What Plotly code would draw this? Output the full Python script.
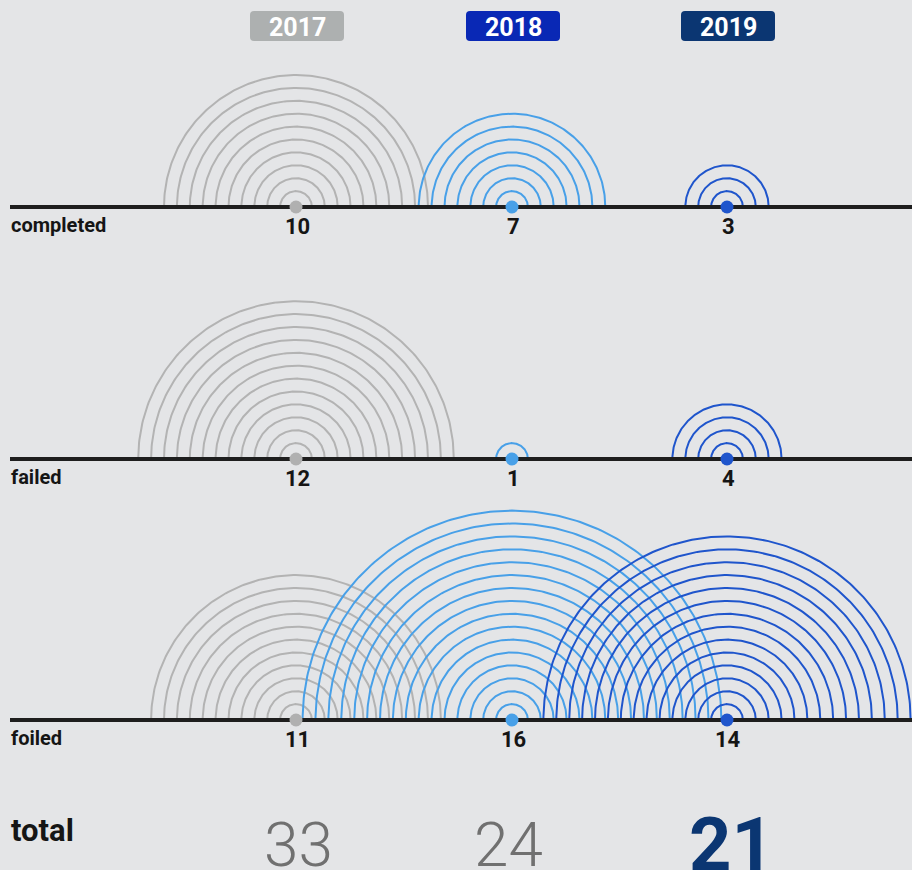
import numpy as np
import plotly.graph_objects as go

# ---- data ----
years = ["2017", "2018", "2019"]
categories = ["completed", "failed", "foiled"]
completed = [10, 7, 3]
failed = [12, 1, 4]
foiled = [11, 16, 14]
totals = [33, 24, 21]

# ---- style / layout (pixel coordinate system) ----
W, H = 912, 870
BG = "#e4e5e7"
arc_colors = ["#b3b3b3", "#48a0e8", "#1f55cc"]
dot_colors = ["#b0b0b0", "#48a0e8", "#1f55cc"]
head_colors = ["#adb0b0", "#0928b5", "#0b3672"]
total_colors = ["#707070", "#707070", "#0b3672"]
total_dx = [2, -4, 4]
col_x = [296, 512, 727]
row_y = [207, 459, 720]
R0, DR = 3.0, 12.9

rows = [completed, failed, foiled]

fig = go.Figure()
t = np.linspace(0, np.pi, 181)

for ri, vals in enumerate(rows):
    by = row_y[ri]
    for ci, n in enumerate(vals):
        cx = col_x[ci]
        xs, ys = [], []
        for k in range(1, n + 1):
            r = R0 + DR * k
            xs += list(cx + r * np.cos(t)) + [None]
            ys += list(by - r * np.sin(t)) + [None]
        fig.add_trace(go.Scatter(x=xs, y=ys, mode="lines",
                                 line=dict(color=arc_colors[ci], width=2),
                                 hoverinfo="skip", showlegend=False))
    # baseline
    fig.add_trace(go.Scatter(x=[10, W], y=[by, by], mode="lines",
                             line=dict(color="#1e1e1e", width=4),
                             hoverinfo="skip", showlegend=False))
    # dots
    fig.add_trace(go.Scatter(x=col_x, y=[by] * 3, mode="markers",
                             marker=dict(size=13, color=dot_colors, line=dict(width=0)),
                             hoverinfo="skip", showlegend=False))
    # row label
    fig.add_annotation(x=9, y=by + 18, text=categories[ri], showarrow=False,
                       xanchor="left", yanchor="middle",
                       font=dict(family="Roboto", size=20, color="#151515", weight="bold"))
    # value labels
    for ci, n in enumerate(vals):
        fig.add_annotation(x=col_x[ci] + 1, y=by + 19, text=str(n), showarrow=False,
                           xanchor="center", yanchor="middle",
                           font=dict(family="Roboto", size=22, color="#151515", weight="bold"))

# year headers
shapes = []
bw, bh, rr = 94, 30, 4
for ci, yr in enumerate(years):
    cx = col_x[ci] + 1
    x0, x1 = cx - bw / 2, cx + bw / 2
    y0, y1 = 11, 11 + bh
    path = (f"M{x0+rr},{y0} L{x1-rr},{y0} Q{x1},{y0} {x1},{y0+rr} "
            f"L{x1},{y1-rr} Q{x1},{y1} {x1-rr},{y1} L{x0+rr},{y1} "
            f"Q{x0},{y1} {x0},{y1-rr} L{x0},{y0+rr} Q{x0},{y0} {x0+rr},{y0} Z")
    shapes.append(dict(type="path", path=path, xref="x", yref="y",
                       fillcolor=head_colors[ci], line=dict(width=0), layer="below"))
    fig.add_annotation(x=cx, y=y0 + bh / 2 + 1, text=yr, showarrow=False,
                       xanchor="center", yanchor="middle",
                       font=dict(family="Roboto", size=25, color="white", weight="bold"))

# totals
fig.add_annotation(x=9, y=830, text="total", showarrow=False,
                   xanchor="left", yanchor="middle",
                   font=dict(family="Roboto", size=31, color="#151515", weight="bold"))
for ci, v in enumerate(totals):
    big = ci == 2
    fig.add_annotation(x=col_x[ci] + total_dx[ci], y=844, text=str(v),
                       showarrow=False, xanchor="center", yanchor="middle",
                       font=dict(family="Roboto", size=62 if not big else 74,
                                 color=total_colors[ci],
                                 weight="bold" if big else 300))

fig.update_layout(
    width=W, height=H, margin=dict(l=0, r=0, t=0, b=0),
    paper_bgcolor=BG, plot_bgcolor=BG, shapes=shapes,
    xaxis=dict(range=[0, W], visible=False, fixedrange=True),
    yaxis=dict(range=[H, 0], visible=False, fixedrange=True),
)
fig.write_html("out.html", config={"displayModeBar": False},
               post_script="document.body.style.margin='0';"
                           "document.body.style.background='#e4e5e7';")
